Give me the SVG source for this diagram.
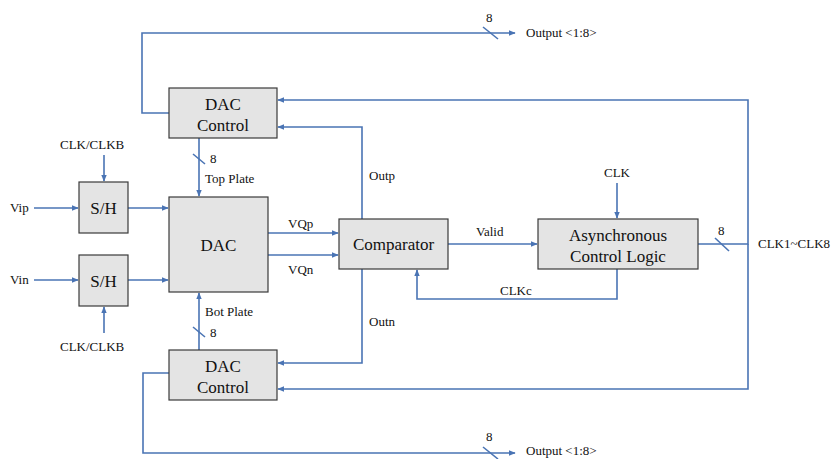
<svg xmlns="http://www.w3.org/2000/svg" width="834" height="459" viewBox="0 0 834 459">
<style>
.box{fill:#e4e4e4;stroke:#3a3a3a;stroke-width:1.2}
.w{fill:none;stroke:#4a74b4;stroke-width:1.6}
.bt{font-family:"Liberation Serif","Times New Roman",serif;font-size:17px;fill:#111;text-anchor:middle}
.lb{font-family:"Liberation Serif","Times New Roman",serif;font-size:13px;fill:#111}
</style>
<defs>
<marker id="ah" viewBox="0 0 10 10" refX="9" refY="5" markerWidth="7" markerHeight="7" markerUnits="userSpaceOnUse" orient="auto">
<path d="M0,1 L10,5 L0,9 z" fill="#4a74b4"/>
</marker>
</defs>
<rect width="834" height="459" fill="#fff"/>
<g id="connectors">
<path class="w" d="M169,113 H142 V33 H515" marker-end="url(#ah)"/>
<path class="w" d="M483,27 L498,39"/>
<path class="w" d="M169,373 H143 V453 H515" marker-end="url(#ah)"/>
<path class="w" d="M483,447 L498,459"/>
<path class="w" d="M698,244 H748 V100 H278" marker-end="url(#ah)"/>
<path class="w" d="M748,244 V389 H278" marker-end="url(#ah)"/>
<path class="w" d="M715,238 L729,251"/>
<path class="w" d="M362,219 V127 H278" marker-end="url(#ah)"/>
<path class="w" d="M362,269 V363 H278" marker-end="url(#ah)"/>
<path class="w" d="M199,138 V196" marker-end="url(#ah)"/>
<path class="w" d="M193,154 L205,164"/>
<path class="w" d="M199,350 V293" marker-end="url(#ah)"/>
<path class="w" d="M193,327 L205,337"/>
<path class="w" d="M34,208 H78" marker-end="url(#ah)"/>
<path class="w" d="M34,280 H78" marker-end="url(#ah)"/>
<path class="w" d="M128,208 H168" marker-end="url(#ah)"/>
<path class="w" d="M128,280 H168" marker-end="url(#ah)"/>
<path class="w" d="M104,155 V181" marker-end="url(#ah)"/>
<path class="w" d="M104,333 V307" marker-end="url(#ah)"/>
<path class="w" d="M268,233 H338" marker-end="url(#ah)"/>
<path class="w" d="M268,255 H338" marker-end="url(#ah)"/>
<path class="w" d="M448,244 H537" marker-end="url(#ah)"/>
<path class="w" d="M617,183 V218" marker-end="url(#ah)"/>
<path class="w" d="M617,269 V299 H417 V270" marker-end="url(#ah)"/>
</g>
<g id="dac-control-top"><rect class="box" x="169" y="88" width="108" height="50"/><text class="bt" x="223" y="110">DAC</text><text class="bt" x="223" y="131">Control</text></g>
<g id="dac-control-bot"><rect class="box" x="169" y="350" width="108" height="50"/><text class="bt" x="223" y="372">DAC</text><text class="bt" x="223" y="393">Control</text></g>
<g id="sh-top"><rect class="box" x="79" y="182" width="49" height="51"/><text class="bt" x="103.5" y="214">S/H</text></g>
<g id="sh-bot"><rect class="box" x="79" y="255" width="49" height="51"/><text class="bt" x="103.5" y="287">S/H</text></g>
<g id="dac"><rect class="box" x="169" y="197" width="99" height="95"/><text class="bt" x="218.5" y="251">DAC</text></g>
<g id="comparator"><rect class="box" x="339" y="219" width="109" height="50"/><text class="bt" x="393.5" y="250">Comparator</text></g>
<g id="async"><rect class="box" x="538" y="219" width="160" height="50"/><text class="bt" x="618" y="241">Asynchronous</text><text class="bt" x="618" y="262">Control Logic</text></g>
<g id="labels">
<text class="lb" x="486" y="22">8</text>
<text class="lb" x="526" y="37">Output &lt;1:8&gt;</text>
<text class="lb" x="486" y="441">8</text>
<text class="lb" x="526" y="455">Output &lt;1:8&gt;</text>
<text class="lb" x="718" y="235">8</text>
<text class="lb" x="758" y="248">CLK1~CLK8</text>
<text class="lb" x="60" y="149">CLK/CLKB</text>
<text class="lb" x="60" y="351">CLK/CLKB</text>
<text class="lb" x="10" y="212">Vip</text>
<text class="lb" x="10" y="284">Vin</text>
<text class="lb" x="210" y="163">8</text>
<text class="lb" x="205" y="183">Top Plate</text>
<text class="lb" x="205" y="316">Bot Plate</text>
<text class="lb" x="210" y="337">8</text>
<text class="lb" x="288" y="228">VQp</text>
<text class="lb" x="288" y="274">VQn</text>
<text class="lb" x="369" y="180">Outp</text>
<text class="lb" x="369" y="326">Outn</text>
<text class="lb" x="476" y="236">Valid</text>
<text class="lb" x="604" y="177">CLK</text>
<text class="lb" x="500" y="295">CLKc</text>
</g>
</svg>
